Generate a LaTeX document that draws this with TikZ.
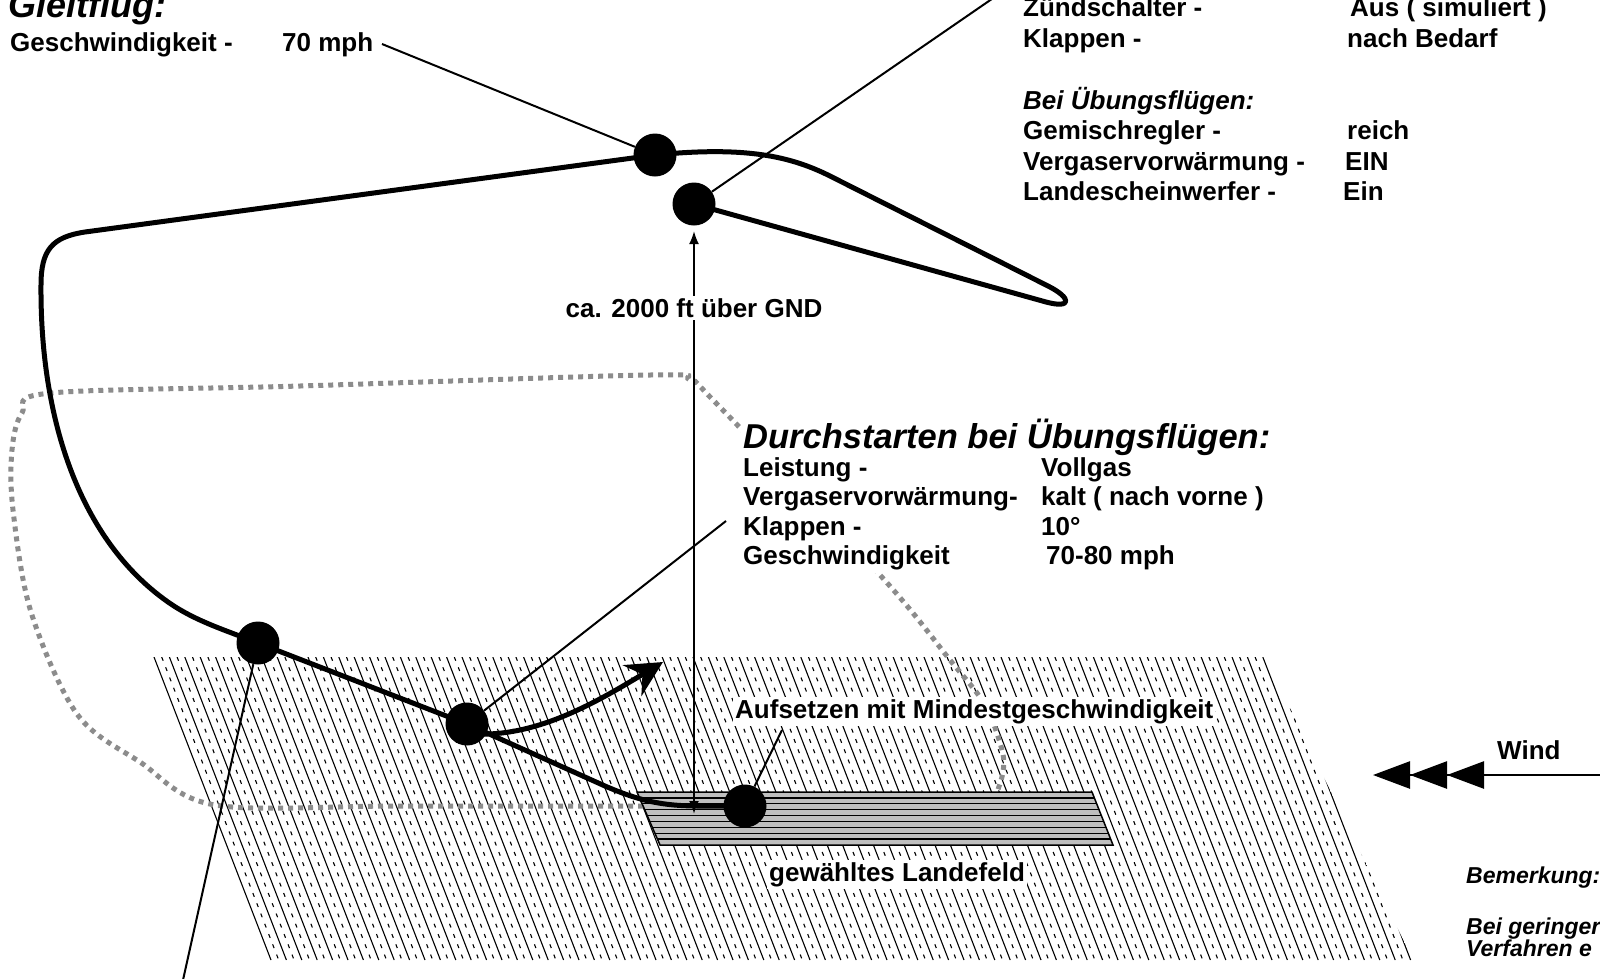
\documentclass[tikz,border=0pt]{standalone}
\usepackage{fontspec}
\setmainfont{Liberation Sans}
\usetikzlibrary{arrows.meta}
\definecolor{dotgray}{HTML}{8C8C8C}
\begin{document}
\begin{tikzpicture}[x=1pt,y=-1pt,
  txt/.style={font=\fontsize{26}{30}\selectfont\bfseries, inner sep=0pt, anchor=base west},
  itxt/.style={font=\fontsize{26}{30}\selectfont\bfseries\itshape, inner sep=0pt, anchor=base west},
  ttl/.style={font=\fontsize{34.5}{40}\selectfont\bfseries\itshape, inner sep=0pt, anchor=base west},
  note/.style={font=\fontsize{23}{20}\selectfont\bfseries\itshape, inner sep=0pt, anchor=base west},
  lbl/.style={txt, fill=white, inner sep=2pt},
  dot/.style={circle, fill=black, minimum size=43pt, inner sep=0pt},
  flight/.style={line width=5pt, line join=round, line cap=round},
  thinl/.style={line width=2pt},
  dotline/.style={line width=5pt, draw=dotgray, dash pattern=on 5pt off 5pt},
  hsolid/.style={line width=1.1pt},
  hdash/.style={line width=1.1pt, dash pattern=on 4pt off 7pt}]
\clip (0,0) rectangle (1600,978);
\fill[white] (0,0) rectangle (1600,978);
% key coordinates
\coordinate (c1) at (655,155);
\coordinate (c2) at (694,204);
\coordinate (c3) at (258,643);
\coordinate (c4) at (467,724);
\coordinate (c5) at (745,806);
% hatched field
\begin{scope}
\clip (153,657) -- (1265,657) -- (1413,960) -- (270,960) -- cycle;
\foreach \i in {0,...,82}{
  \draw[hsolid] ({154+15.4*\i},657) -- ++(117,303);
  \draw[hdash] ({161.7+15.4*\i},657) -- ++(117,303);
}
\end{scope}
% dotted practice path
\draw[dotline] plot[smooth, tension=0.55] coordinates {(643,806) (400,806) (215,805) (140,762) (77,714) (31,612) (13,510) (12,450) (22,413) (51,393) (300,386) (650,375) (690,380) (715,402) (880,575) (950,660) (985,705) (1002,750) (1003,772) (997,792)};
% white backing of go-around block
\fill[white] (741,414) rectangle (1280,573);
% runway
\filldraw[fill=gray!50, draw=black, line width=1.5pt] (637,792) -- (1092,792) -- (1113,845) -- (660,845) -- cycle;
\begin{scope}
\clip (637,792) -- (1092,792) -- (1113,845) -- (660,845) -- cycle;
\foreach \k in {1,...,8}{
  \draw[line width=1.3pt] (600,{792+5.89*\k}) -- (1150,{792+5.89*\k});
}
\end{scope}
% flight path
\draw[flight] (c2) -- (1046,302) .. controls (1072,309) and (1072,298) .. (1048,286) -- (830,176) .. controls (790,156) and (745,146) .. (c1) -- (85,232) .. controls (52,237) and (41,250) .. (41,285) .. controls (40,420) and (80,540) .. (168,602) .. controls (195,621) and (225,630) .. (c3) -- (c4) -- (605,786) .. controls (640,801) and (662,806) .. (700,806) -- (c5);
% go-around arrow
\draw[flight, line cap=butt, -{Stealth[length=36pt,width=36pt,inset=12pt]}] (478,734) .. controls (540,736) and (600,700) .. (663,662);
% height arrow
\coordinate (a1) at (694,231);
\coordinate (a2) at (694,814);
\draw[thinl, {Latex[length=13pt,width=10pt]}-{Latex[length=13pt,width=10pt]}] (a1) -- (a2);
% circles
\node[dot] (C1) at (c1) {};
\node[dot] (C2) at (c2) {};
\node[dot] (C3) at (c3) {};
\node[dot] (C4) at (c4) {};
\node[dot] (C5) at (c5) {};
% connectors
\coordinate (l1) at (382,44);
\coordinate (l2) at (1002,-8);
\coordinate (l3) at (726,521);
\coordinate (l4) at (782,730);
\coordinate (l5) at (183,980);
\draw[thinl] (l1) -- (C1);
\draw[thinl] (C2) -- (l2);
\draw[thinl] (C4) -- (l3);
\draw[thinl] (C5) -- (l4);
\draw[thinl] (C3) -- (l5);
% wind
\coordinate (wR) at (1606,775);
\coordinate (wL) at (1373,775);
\draw[line width=2.5pt, -{Triangle[length=37pt,width=27pt]Triangle[length=37pt,width=27pt]Triangle[length=37pt,width=27pt]}] (wR) -- (wL);
\node[txt] (wind) at (1497,759) {Wind};
% texts top left
\node[ttl, font=\fontsize{36}{40}\selectfont\bfseries\itshape] (gleit) at (8,17) {Gleitflug:};
\node[txt] (gs) at (10,51) {Geschwindigkeit -};
\node[txt] (gsv) at (282,51) {70 mph};
% texts top right
\node[txt] (z1) at (1023,16) {Zündschalter -};
\node[txt] (z1v) at (1350,16) {Aus ( simuliert )};
\node[txt] (z2) at (1023,47) {Klappen -};
\node[txt] (z2v) at (1347,47) {nach Bedarf};
\node[itxt] (bu) at (1023,109) {Bei Übungsflügen:};
\node[txt] (g1) at (1023,139) {Gemischregler -};
\node[txt] (g1v) at (1347,139) {reich};
\node[txt] (v1) at (1023,170) {Vergaservorwärmung -};
\node[txt] (v1v) at (1345,170) {EIN};
\node[txt] (s1) at (1023,200) {Landescheinwerfer -};
\node[txt] (s1v) at (1343,200) {Ein};
% go-around block
\node[ttl] (dt) at (743,448) {Durchstarten bei Übungsflügen:};
\node[txt] (d1) at (743,476) {Leistung -};
\node[txt] (d1v) at (1041,476) {Vollgas};
\node[txt] (d2) at (743,505) {Vergaservorwärmung-};
\node[txt] (d2v) at (1041,505) {kalt ( nach vorne )};
\node[txt] (d3) at (743,535) {Klappen -};
\node[txt] (d3v) at (1041,535) {10°};
\node[txt] (d4) at (743,564) {Geschwindigkeit};
\node[txt] (d4v) at (1046,564) {70-80 mph};
% labels
\node[txt, fill=white, inner sep=2pt, anchor=center] (ca) at (694,308) {ca. 2000 ft über GND};
\node[lbl] (aufs) at (733,718) {Aufsetzen mit Mindestgeschwindigkeit};
\node[lbl] (landef) at (767,881) {gewähltes Landefeld};
% remark
\node[note] (bem1) at (1466,883) {Bemerkung:};
\node[note] (bem2) at (1466,934) {Bei geringer};
\node[note] (bem3) at (1466,956) {Verfahren e};
\end{tikzpicture}
\end{document}
